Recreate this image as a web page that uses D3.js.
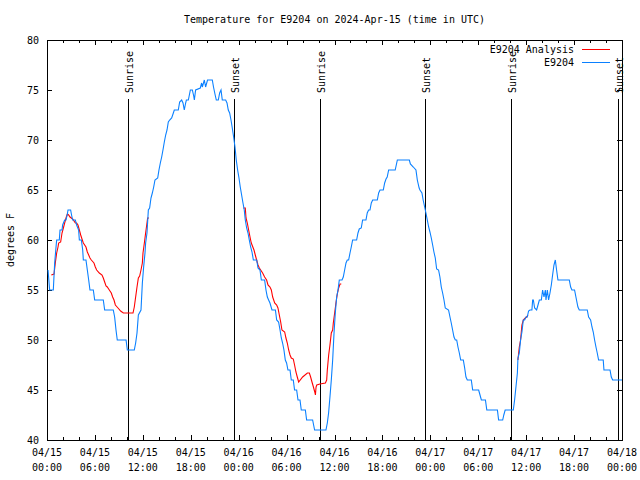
<!DOCTYPE html>
<html>
<head>
<meta charset="utf-8">
<script src="https://cdn.jsdelivr.net/npm/d3@7"></script>
<style>
  html, body { margin: 0; padding: 0; background: #fff; }
  svg { display: block; font-family: "DejaVu Sans Mono", monospace; font-size: 10px; }
</style>
</head>
<body>
<svg id="chart" width="640" height="480"></svg>
<script>
// ---------------- DATA (hours since 04/15 00:00 UTC, degrees F) ----------------
const chartTitle = "Temperature for E9204 on 2024-Apr-15 (time in UTC)";
const yLabel = "degrees F";
const seriesNames = ["E9204 Analysis", "E9204"];
const yTicks = [40, 45, 50, 55, 60, 65, 70, 75, 80];
const xMajorTicks = [0, 6, 12, 18, 24, 30, 36, 42, 48, 54, 60, 66, 72];
const xDateLabels = ["04/15","04/15","04/15","04/15","04/16","04/16","04/16","04/16","04/17","04/17","04/17","04/17","04/18"];
const xTimeLabels = ["00:00","06:00","12:00","18:00","00:00","06:00","12:00","18:00","00:00","06:00","12:00","18:00","00:00"];
const sunEventHours = [10.16, 23.45, 34.18, 47.36, 58.1, 71.46];
const sunEventNames = ["Sunrise","Sunset","Sunrise","Sunset","Sunrise","Sunset"];

const e9204Obs = [
[0.13,57],[0.33,55],[0.79,55],[0.96,57.7],[1.13,59.3],[1.21,60],[1.54,60],[1.63,61],[1.88,61],[1.96,61.5],
[2.21,62],[2.38,62],[2.55,62.6],[2.63,63],[2.96,63],[3.05,62.6],[3.21,62],[3.55,62],[3.71,61.5],[3.96,61],
[4.05,60],[4.3,60],[4.47,59],[4.55,58],[4.88,58],[5.05,57],[5.22,56],[5.38,55],[5.8,55],[5.97,54],
[7.05,54],[7.22,53],[8.3,53],[8.47,52.3],[8.64,51],[8.8,50],[9.9,50],[10.06,49],[10.93,49],[11.1,49.7],
[11.27,50.7],[11.44,52.5],[11.77,53],[11.94,55.7],[12.1,57.3],[12.27,58.7],[12.35,59.7],[12.52,60.7],[12.69,63],[12.85,63.2],
[13.02,64.2],[13.19,64.7],[13.36,65.3],[13.52,66],[13.86,66.2],[14.02,67],[14.19,67.7],[14.36,68.3],[14.52,69],[14.69,69.8],
[14.86,70.5],[15.03,71],[15.19,71.8],[15.36,72],[15.61,72.2],[15.78,72.6],[15.94,73],[16.44,73],[16.61,73.8],[16.86,74],
[17.03,73.7],[17.19,73],[17.36,73.7],[17.45,74],[17.7,74],[17.95,75],[18.2,75],[18.37,74.4],[18.45,74],[18.61,75],
[19.2,75.2],[19.36,75.7],[19.45,75.3],[19.7,76],[19.86,75.3],[20.1,76],[20.7,76],[20.85,75.3],[21.03,74.6],[21.2,74],
[21.45,74],[21.62,74.7],[21.79,75],[21.95,74],[22.37,74],[22.54,73.7],[22.7,73],[22.87,72.7],[23.04,72],[23.2,71.2],
[23.37,70.3],[23.54,69.3],[23.7,68],[23.87,67],[24.04,66.2],[24.2,65.3],[24.37,64.5],[24.54,63.7],[24.7,63],[24.83,62],
[25.0,61.2],[25.17,60.7],[25.33,60],[25.5,59.3],[25.67,58.8],[25.84,58],[26.26,58],[26.42,57.2],[26.67,57],[26.84,56],
[27.25,56],[27.42,55],[27.59,54.3],[27.75,54],[27.92,53.7],[28.17,53],[28.6,53],[28.76,52],[29.0,51.8],[29.18,51],
[29.34,50.2],[29.5,49.7],[29.67,49],[29.84,48],[30.0,47.7],[30.17,47],[30.43,47],[30.59,46],[30.84,46],[31.0,45],
[31.26,45],[31.43,44],[31.68,44],[31.84,43],[32.35,43],[32.51,42],[33.26,42],[33.51,41],[34.93,41],[35.1,41.7],
[35.26,42.7],[35.43,44.3],[35.6,46],[35.77,48],[35.94,50.7],[36.1,52.7],[36.27,54.3],[36.44,55],[36.6,56],[36.94,56],
[37.1,56.3],[37.27,57],[37.44,57.7],[37.6,58],[37.77,58],[37.94,58.7],[38.1,59.3],[38.27,60],[38.77,60],[38.94,60.7],
[39.1,61.1],[39.35,61.2],[39.52,62],[39.94,62],[40.1,62.7],[40.27,63],[40.44,63],[40.61,63.7],[40.78,64],[41.36,64],
[41.53,64.7],[41.7,65],[42.11,65],[42.28,65.7],[42.45,66.1],[42.6,66.3],[42.78,67],[43.6,67],[43.87,68],[45.37,68],
[45.5,67.6],[45.87,67.3],[46.2,67],[46.37,66],[46.6,65.2],[46.7,65],[46.95,64.7],[47.1,64],[47.29,63.3],[47.45,62.7],
[47.62,62],[47.79,61.3],[47.95,60.8],[48.12,60.2],[48.29,59.5],[48.45,58.8],[48.62,58.2],[48.79,57.1],[49.03,57],[49.2,56.3],
[49.37,55.3],[49.54,54.7],[49.71,54],[49.87,53.2],[50.28,53],[50.46,52.3],[50.62,51.7],[50.79,51],[50.96,50.3],[51.13,50],
[51.3,50],[51.46,49.3],[51.63,48.7],[51.8,48],[52.13,48],[52.3,47.2],[52.46,46.3],[52.63,46],[53.13,46],[53.3,45],
[54.05,45],[54.22,44.5],[54.39,44],[54.9,44],[55.07,43],[56.4,43],[56.55,42],[57.06,42],[57.2,42.5],[57.37,43],
[58.39,43],[58.55,44],[58.72,45.3],[58.9,46.7],[58.97,48.2],[59.14,48.7],[59.3,50],[59.47,50.8],[59.64,52],[59.81,52],
[59.97,52.3],[60.14,52.3],[60.3,52.9],[60.47,53],[60.72,53],[60.81,54],[60.9,54],[61.06,53.2],[61.31,53],[61.48,53.5],
[61.65,54],[61.9,54],[62.06,55],[62.23,54.3],[62.4,55],[62.48,54],[62.65,55],[62.81,54],[62.98,54.7],[63.15,55.5],
[63.31,56.5],[63.48,57.5],[63.65,58],[63.81,57],[63.98,56],[65.4,56],[65.57,55.3],[65.73,55],[66.06,55],[66.23,54.3],
[66.48,53.3],[66.65,53],[67.65,53],[67.82,52.3],[68.07,52],[68.24,51.3],[68.4,50.8],[68.57,50],[68.74,49.3],[68.9,48.7],
[69.07,48],[69.65,48],[69.74,47],[70.5,47],[70.66,46.3],[70.83,46],[72,46]
];

const analysisDay1 = [
[0.54,56.5],[0.88,56.6],[1.04,57.7],[1.21,58.7],[1.38,59.3],[1.46,59.7],[1.71,59.8],[1.88,60.7],[2.05,61.2],[2.21,61.7],
[2.38,62.2],[2.55,62.6],[2.71,62.5],[2.88,62.3],[3.21,62.1],[3.55,61.7],[3.71,61.7],[3.88,61.5],[4.05,61],[4.22,60.5],
[4.38,60.1],[4.55,59.7],[4.88,59.3],[5.05,58.8],[5.22,58.5],[5.38,58.2],[5.55,58],[5.88,57.7],[6.05,57.3],[6.22,57],
[6.55,56.7],[6.89,56.5],[7.05,56.2],[7.22,55.8],[7.39,55.4],[7.55,55.3],[7.72,55.1],[8.05,54.7],[8.22,54.3],[8.39,54],
[8.56,53.5],[8.89,53.2],[9.22,52.9],[9.56,52.7],[10.77,52.7],[10.93,53.3],[11.1,54.3],[11.27,55.3],[11.44,56.2],[11.6,56.4],
[11.77,57],[11.94,57.7],[12.02,58.7],[12.19,59.7],[12.35,60.7],[12.52,61.7],[12.6,62.2],[12.77,62.2]
];
const analysisDay2 = [
[24.58,63.2],[24.83,63.2],[24.92,62.2],[25.08,61.7],[25.25,61],[25.42,60.3],[25.58,59.7],[25.92,59],[26.08,58.5],[26.25,58],
[26.42,57.5],[26.59,57.2],[27.0,56.7],[27.25,56.3],[27.5,56],[27.67,55.5],[27.92,55.3],[28.09,55],[28.26,54.3],[28.51,53.7],
[28.76,53.5],[28.92,53.2],[29.09,52.5],[29.26,51.8],[29.42,51],[29.76,50.8],[29.92,50.2],[30.09,49.7],[30.26,49],[30.43,48.5],
[30.59,48.2],[30.84,48.1],[31.0,47.5],[31.17,46.8],[31.34,46.3],[31.51,45.8],[32.01,46.3],[32.6,46.7],[32.85,46.7],[33.01,46.3],
[33.18,45.8],[33.36,45.3],[33.53,44.8],[33.61,44.5],[33.69,45.3],[33.78,45.5],[34.18,45.6],[34.86,45.7],[35.02,46],[35.1,47],
[35.27,48.5],[35.43,49.5],[35.6,50.7],[35.77,51],[35.85,51.7],[36.02,52.7],[36.18,53.7],[36.35,54.6],[36.52,55.2],[36.69,55.6],
[36.85,55.6]
];
const analysisDay3 = [
[58.97,48],[59.06,48.7],[59.14,49.3],[59.3,50],[59.39,50.8],[59.47,51.5],[59.64,52],[59.89,52.2],[60.06,52.3],[60.22,52.5]
];

// ---------------- DRAWING ----------------
const svg = d3.select("#chart");
const W = 640, H = 480;
const mLeft = 47, mRight = 622, mTop = 40, mBottom = 440;
const red = "#ff0000", blue = "#0a80ff";

svg.append("rect").attr("width", W).attr("height", H).attr("fill", "#fff");

const x = d3.scaleLinear().domain([0, 72]).range([mLeft, mRight]);
const y = d3.scaleLinear().domain([40, 80]).range([mBottom, mTop]);

const minorTicks = d3.range(0, 73, 2).filter(h => h % 6 !== 0);

function styleAxis(g) {
  g.select(".domain").remove();
  g.selectAll("line").attr("stroke", "#000").attr("shape-rendering", "crispEdges");
  g.selectAll("text").remove();
}
svg.append("g").attr("transform", `translate(0,${mBottom})`)
  .call(d3.axisBottom(x).tickValues(xMajorTicks).tickSize(-5)).call(styleAxis);
svg.append("g").attr("transform", `translate(0,${mBottom})`)
  .call(d3.axisBottom(x).tickValues(minorTicks).tickSize(-3)).call(styleAxis);
svg.append("g").attr("transform", `translate(0,${mTop})`)
  .call(d3.axisTop(x).tickValues(xMajorTicks).tickSize(-5)).call(styleAxis);
svg.append("g").attr("transform", `translate(0,${mTop})`)
  .call(d3.axisTop(x).tickValues(minorTicks).tickSize(-3)).call(styleAxis);
svg.append("g").attr("transform", `translate(${mLeft},0)`)
  .call(d3.axisLeft(y).tickValues(yTicks).tickSize(-5)).call(styleAxis);
svg.append("g").attr("transform", `translate(${mRight},0)`)
  .call(d3.axisRight(y).tickValues(yTicks).tickSize(-5)).call(styleAxis);

// y tick labels
svg.append("g").selectAll("text").data(yTicks).join("text")
  .attr("x", mLeft - 8).attr("y", d => y(d)).attr("dy", "0.35em")
  .attr("text-anchor", "end").attr("fill", "#000").text(d => d);

// x tick labels (two lines)
const xl = svg.append("g").selectAll("g").data(xMajorTicks).join("g")
  .attr("transform", d => `translate(${x(d)},0)`);
xl.append("text").attr("y", 456).attr("text-anchor", "middle").text((d, i) => xDateLabels[i]);
xl.append("text").attr("y", 471).attr("text-anchor", "middle").text((d, i) => xTimeLabels[i]);

// title and axis label
svg.append("text").attr("x", (mLeft + mRight) / 2).attr("y", 23).attr("text-anchor", "middle").text(chartTitle);
svg.append("text").attr("transform", `translate(14,${(mTop + mBottom) / 2}) rotate(-90)`)
  .attr("text-anchor", "middle").text(yLabel);

// sunrise / sunset lines
const sun = svg.append("g").selectAll("g").data(sunEventHours).join("g");
sun.append("line")
  .attr("x1", d => Math.round(x(d)) + 0.5).attr("x2", d => Math.round(x(d)) + 0.5)
  .attr("y1", 99).attr("y2", mBottom)
  .attr("stroke", "#000").attr("stroke-width", 1).attr("shape-rendering", "crispEdges");
sun.append("text")
  .attr("transform", d => `translate(${Math.round(x(d)) + 5},93) rotate(-90)`)
  .attr("text-anchor", "start").text((d, i) => sunEventNames[i]);

// border
svg.append("rect").attr("x", mLeft + 0.5).attr("y", mTop + 0.5)
  .attr("width", mRight - mLeft).attr("height", mBottom - mTop)
  .attr("fill", "none").attr("stroke", "#000").attr("shape-rendering", "crispEdges");

// data lines
const line = d3.line().x(d => x(d[0])).y(d => y(d[1]));
[analysisDay1, analysisDay2, analysisDay3].forEach(seg => {
  svg.append("path").datum(seg).attr("d", line)
    .attr("fill", "none").attr("stroke", red).attr("stroke-width", 1.1);
});
svg.append("path").datum(e9204Obs).attr("d", line)
  .attr("fill", "none").attr("stroke", blue).attr("stroke-width", 1.1);

// legend
const legendColors = [red, blue];
const lg = svg.append("g").selectAll("g").data(seriesNames).join("g")
  .attr("transform", (d, i) => `translate(0,${49 + i * 13})`);
lg.append("text").attr("x", 574).attr("dy", "0.35em").attr("text-anchor", "end").text(d => d);
lg.append("line").attr("x1", 582).attr("x2", 610).attr("y1", 0.5).attr("y2", 0.5)
  .attr("stroke", (d, i) => legendColors[i]).attr("stroke-width", 1).attr("shape-rendering", "crispEdges");
</script>
</body>
</html>
